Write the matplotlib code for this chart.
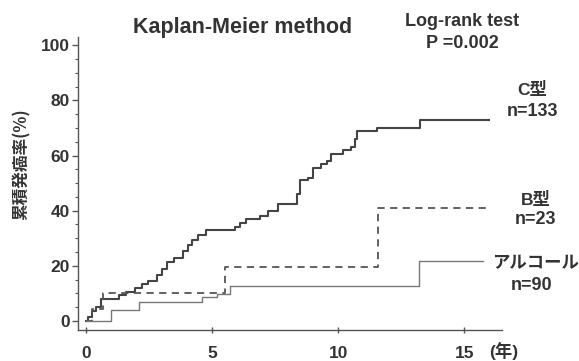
import matplotlib
matplotlib.use("Agg")
import matplotlib.pyplot as plt
from matplotlib.ticker import MultipleLocator

plt.rcParams['font.family'] = ['Liberation Sans', 'Noto Sans CJK JP', 'DejaVu Sans']

# Data (years, cumulative incidence %)
c_times = [0, 0.08, 0.25, 0.4, 0.6, 1.3, 1.6, 1.95, 2.2, 2.45, 2.8, 3.0, 3.2, 3.5,
           3.85, 4.05, 4.2, 4.45, 4.75, 5.9, 6.1, 6.35, 6.9, 7.2, 7.6, 8.35, 8.5,
           8.8, 9.0, 9.3, 9.55, 9.7, 10.2, 10.5, 10.65, 10.75, 11.55, 13.25, 16.0]
c_vals = [0, 1.5, 3.5, 5, 8, 9.5, 10.5, 12, 13.5, 14.5, 16.5, 19, 21.5, 23,
          25.5, 27.5, 29.5, 31, 33, 34, 35.5, 37, 38, 40, 42.5, 46, 51,
          52, 55.5, 57, 58, 60.5, 62, 63, 66, 69, 70, 73, 73]

b_times = [0, 0.25, 0.68, 5.5, 11.6, 16.0]
b_vals = [0, 4.3, 10.2, 19.6, 41, 41]

a_times = [0, 1.0, 2.1, 4.6, 5.2, 5.7, 13.2, 15.75]
a_vals = [0, 3.8, 7.0, 8.8, 9.8, 12.7, 21.8, 21.8]

y_ticks = [0, 20, 40, 60, 80, 100]
x_ticks = [0, 5, 10, 15]

txt = '#333333'

fig = plt.figure(figsize=(5.79, 3.61), dpi=100)
ax = fig.add_axes([78/579, 1-330/361, (502-78)/579, (330-37)/361])

ax.step(c_times, c_vals, where='post', color='#444444', lw=1.5)
ax.step(b_times, b_vals, where='post', color='#555555', lw=1.3, ls=(0, (4, 3)))
ax.step(a_times, a_vals, where='post', color='#777777', lw=1.0)

ax.set_xlim(-0.32, 16.5)
ax.set_ylim(-3.3, 103)
ax.set_xticks(x_ticks)
ax.set_yticks(y_ticks)
ax.yaxis.set_minor_locator(MultipleLocator(5))

for s in ['top', 'right']:
    ax.spines[s].set_visible(False)
for s in ['left', 'bottom']:
    ax.spines[s].set_color('#555555')
    ax.spines[s].set_linewidth(1.0)

ax.tick_params(axis='y', which='major', direction='out', length=4, width=1,
               color='#555555', labelsize=12.5, labelcolor=txt, pad=2)
ax.tick_params(axis='y', which='minor', direction='out', length=2, width=0.8,
               color='#555555')
ax.tick_params(axis='x', which='major', direction='inout', length=5, width=1,
               color='#555555', labelsize=12.5, labelcolor=txt, pad=9)
for lab in ax.get_xticklabels() + ax.get_yticklabels():
    lab.set_fontweight('bold')

def ft(x, y, s, size, **kw):
    fig.text(x/579, 1-y/361, s, fontsize=size, fontweight='bold', color=txt,
             ha='center', va='center', **kw)

ft(22, 164, '累積発癌率(%)', 12, rotation=90,
   family=['Noto Sans CJK JP', 'DejaVu Sans'])
ft(243, 28, 'Kaplan-Meier method', 15.5)
ft(462, 22, 'Log-rank test', 13)
ft(462, 43, 'P =0.002', 13)
ft(532, 90, 'C型', 12.5)
ft(532, 112, 'n=133', 13)
ft(536, 200, 'B型', 12.5)
ft(536, 220, 'n=23', 13)
ft(535, 264, 'アルコール', 12.5)
ft(532, 285, 'n=90', 13)
ft(504, 351, '(年)', 12.5)

fig.savefig('out.png', dpi=100, facecolor='white')
